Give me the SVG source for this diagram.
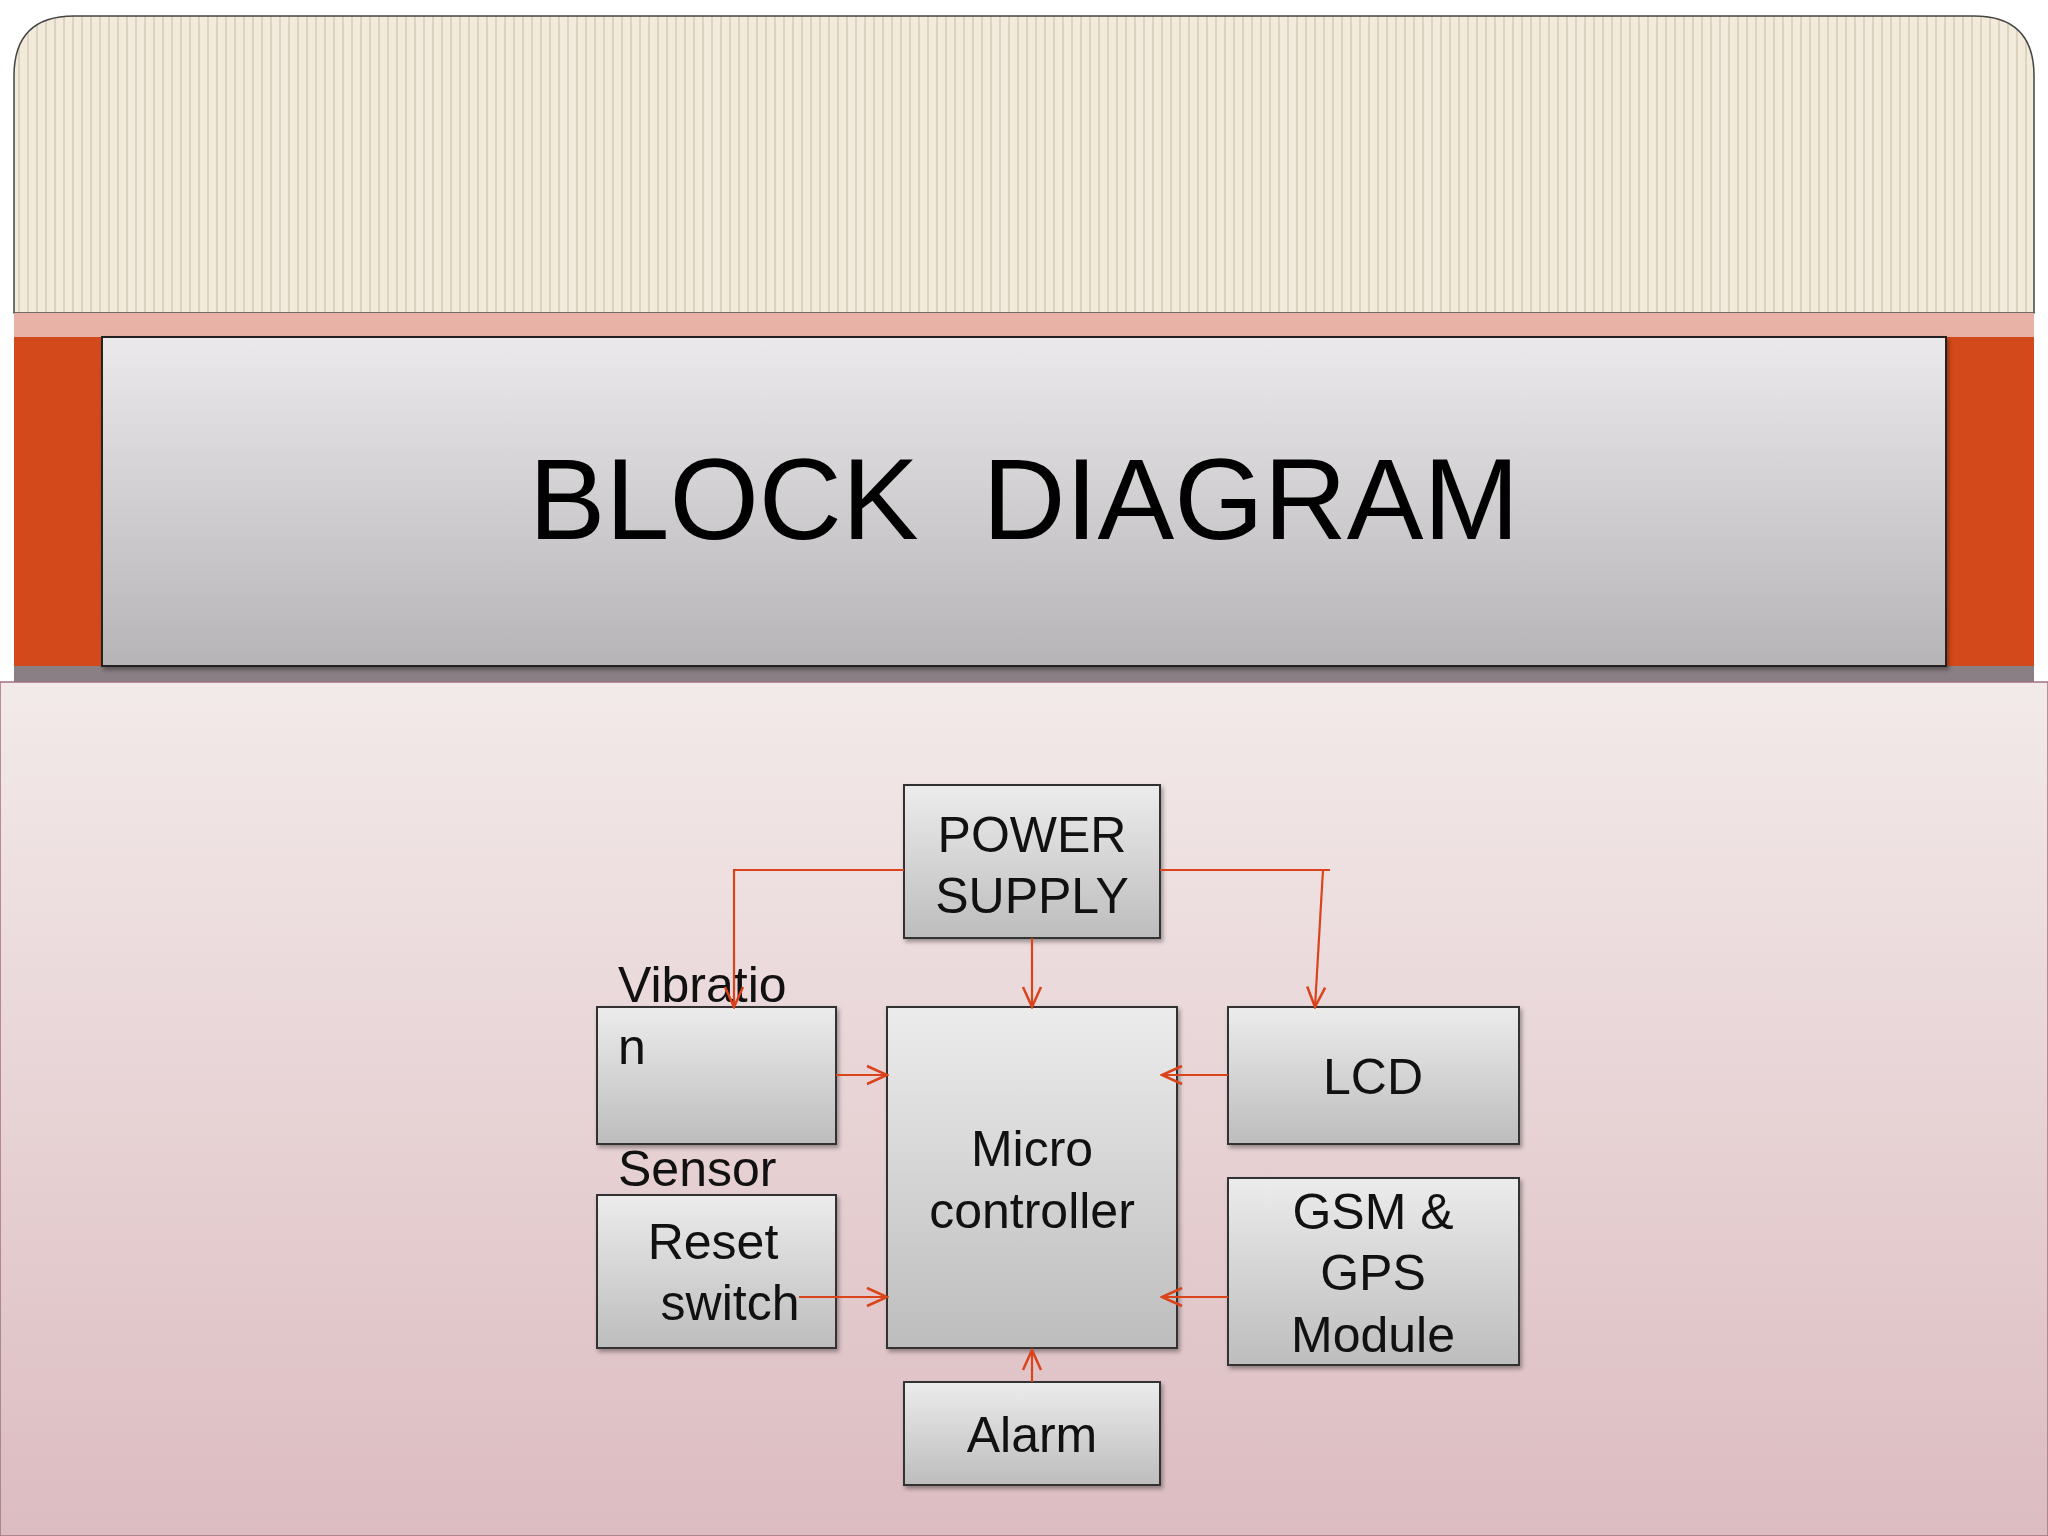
<svg xmlns="http://www.w3.org/2000/svg" width="2048" height="1536" viewBox="0 0 2048 1536">
<defs>
<pattern id="stripes" width="9" height="10" patternUnits="userSpaceOnUse">
<rect width="9" height="10" fill="#f2eadb"/>
<rect x="0" width="2" height="10" fill="#ddd4bf"/>
</pattern>
<linearGradient id="bg" x1="0" y1="0" x2="0" y2="1">
<stop offset="0" stop-color="#f3eaea"/><stop offset="1" stop-color="#dcbcc0"/>
</linearGradient>
<linearGradient id="title" x1="0" y1="0" x2="0" y2="1">
<stop offset="0" stop-color="#ebe9ec"/><stop offset="1" stop-color="#b6b4b7"/>
</linearGradient>
<linearGradient id="box" x1="0" y1="0" x2="0" y2="1">
<stop offset="0" stop-color="#ececec"/><stop offset="1" stop-color="#bdbdbd"/>
</linearGradient>
<filter id="sh" x="-10%" y="-10%" width="130%" height="130%">
<feDropShadow dx="2" dy="3" stdDeviation="2" flood-color="#000" flood-opacity="0.35"/>
</filter>
<marker id="arrb" viewBox="0 0 24 24" refX="22" refY="12" markerWidth="24" markerHeight="24" markerUnits="userSpaceOnUse" orient="auto">
<path d="M2,3 L22,12 L2,21" fill="none" stroke="#d9441c" stroke-width="2.5"/>
</marker>
</defs>
<style>
.box{fill:url(#box);stroke:#333;stroke-width:2;filter:url(#sh)}
.t{font-family:"Liberation Sans",Arial,sans-serif;font-size:50px;fill:#111}
.c{text-anchor:middle}
.ln{fill:none;stroke:#d9441c;stroke-width:2.2}
</style>
<rect width="2048" height="1536" fill="#fff"/>
<path d="M14,313 V76 Q14,16 74,16 H1974 Q2034,16 2034,76 V313 Z" fill="url(#stripes)" stroke="#444" stroke-width="1.5"/>
<rect x="14" y="313" width="2020" height="24" fill="#e8b2a6"/>
<rect x="14" y="337" width="2020" height="332" fill="#d4491b"/>
<rect x="14" y="666" width="2020" height="16" fill="#8a7f84"/>
<rect x="0" y="682" width="2048" height="854" fill="url(#bg)" stroke="#a07080" stroke-width="1.5"/>
<g id="title-box">
<rect x="102" y="337" width="1844" height="329" fill="url(#title)" stroke="#222" stroke-width="2" filter="url(#sh)"/>
<text x="1024" y="539" class="c" font-family="Liberation Sans,Arial,sans-serif" font-size="115" fill="#000" xml:space="preserve">BLOCK  DIAGRAM</text>
</g>
<g id="power"><rect class="box" x="904" y="785" width="256" height="153"/>
<text class="t c" x="1032" y="852">POWER</text><text class="t c" x="1032" y="913">SUPPLY</text></g>
<g id="vibration"><rect class="box" x="597" y="1007" width="239" height="137"/>
<text class="t" x="618" y="1002">Vibratio</text><text class="t" x="618" y="1064">n</text><text class="t" x="618" y="1186">Sensor</text></g>
<g id="micro"><rect class="box" x="887" y="1007" width="290" height="341"/>
<text class="t c" x="1032" y="1166">Micro</text><text class="t c" x="1032" y="1228">controller</text></g>
<g id="lcd"><rect class="box" x="1228" y="1007" width="291" height="137"/>
<text class="t c" x="1373" y="1094">LCD</text></g>
<g id="reset"><rect class="box" x="597" y="1195" width="239" height="153"/>
<text class="t c" x="713" y="1259">Reset</text><text class="t c" x="730" y="1320">switch</text></g>
<g id="gsm"><rect class="box" x="1228" y="1178" width="291" height="187"/>
<text class="t c" x="1373" y="1229">GSM &amp;</text><text class="t c" x="1373" y="1290">GPS</text><text class="t c" x="1373" y="1352">Module</text></g>
<g id="alarm"><rect class="box" x="904" y="1382" width="256" height="103"/>
<text class="t c" x="1032" y="1452">Alarm</text></g>
<g id="connectors">
<path class="ln" d="M904,870 H734 V1007" marker-end="url(#arrb)"/>
<path class="ln" d="M1160,870 H1330"/>
<path class="ln" d="M1323,870 L1315,1007" marker-end="url(#arrb)"/>
<path class="ln" d="M1032,938 V1007" marker-end="url(#arrb)"/>
<path class="ln" d="M836,1075 H887" marker-end="url(#arrb)"/>
<path class="ln" d="M799,1297 H887" marker-end="url(#arrb)"/>
<path class="ln" d="M1228,1075 H1162" marker-end="url(#arrb)"/>
<path class="ln" d="M1228,1297 H1162" marker-end="url(#arrb)"/>
<path class="ln" d="M1032,1382 V1350" marker-end="url(#arrb)"/>
</g>
</svg>
